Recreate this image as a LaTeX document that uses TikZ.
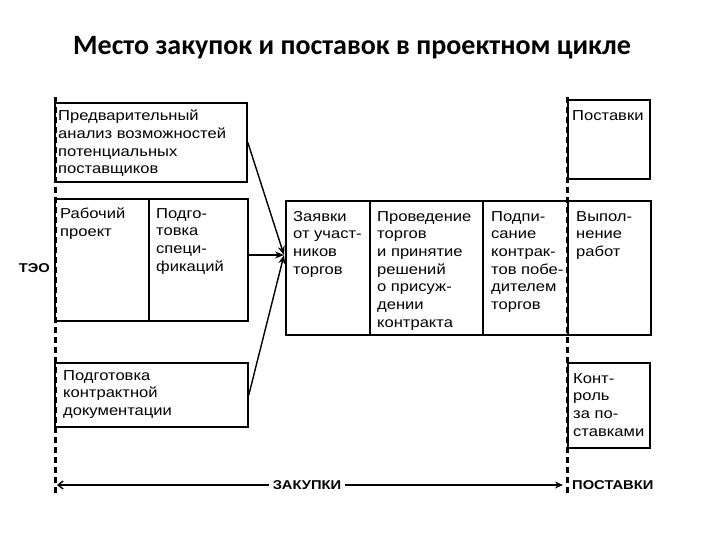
\documentclass[tikz,border=0pt]{standalone}
\usepackage{fontspec}
\setmainfont{Liberation Sans}
\newfontfamily\boxfont[FakeStretch=1.15]{Liberation Sans}
\newfontfamily\titlefont{Carlito}
\usetikzlibrary{arrows.meta,calc}
\newcommand\cellbox[8]{%
  \node[cellframe, minimum width={#4-#2}, minimum height={#5-#3}, anchor=north west] (#1) at (#2,#3) {};
  \node[celltext, anchor=north west] (#1-t) at ([shift={(#6pt,-#7pt)}]#1.north west) {#8};
}
\begin{document}
\begin{tikzpicture}[x=1pt,y=-1pt,
  cellframe/.style={draw=black, line width=1.8pt, inner sep=0pt},
  celltext/.style={inner sep=0pt, align=left, font=\boxfont\fontsize{14.4}{17.7}\selectfont},
  phase/.style={line width=3pt, dash pattern=on 6pt off 4pt},
  arr/.style={line width=1.4pt, -{Stealth[length=9pt,width=7pt]}},
  lab/.style={inner sep=1pt, font=\boxfont\bfseries\fontsize{12.8}{14}\selectfont}]
\useasboundingbox (0,0) rectangle (720,540);

\node[font=\titlefont\bfseries\fontsize{28}{32}\selectfont] (title) at (352,48) {Место закупок и поставок в проектном цикле};

\cellbox{pred}{54}{102}{246}{181}{4}{8}{Предварительный\\анализ возможностей\\потенциальных\\поставщиков}
\cellbox{rab}{54}{198}{148}{320}{6}{10}{Рабочий\\проект}
\cellbox{spec}{148}{198}{247}{320}{8}{10}{Подго-\\товка\\специ-\\фикаций}
\cellbox{doc}{54}{362}{247}{426}{9}{8}{Подготовка\\контрактной\\документации}
\cellbox{zay}{285}{200}{369}{334}{8}{11}{Заявки\\от участ-\\ников\\торгов}
\cellbox{prov}{369}{200}{482}{334}{8}{11}{Проведение\\торгов\\и принятие\\решений\\о присуж-\\дении\\контракта}
\cellbox{podp}{482}{200}{567}{334}{9}{11}{Подпи-\\сание\\контрак-\\тов побе-\\дителем\\торгов}
\cellbox{vyp}{567}{200}{650}{334}{9}{11}{Выпол-\\нение\\работ}
\cellbox{post}{567}{99}{649}{178}{5}{11}{Поставки}
\cellbox{kontr}{567}{362}{649}{447}{6}{11}{Конт-\\роль\\за по-\\ставками}

% phase boundaries
\coordinate (lt) at (55,97);
\coordinate (lb) at (55,494);
\coordinate (rt) at (567,97);
\coordinate (rb) at (567,494);
\draw[phase] (lt) -- (lb);
\draw[phase] (rt) -- (rb);

% arrows into applications box
\coordinate (tip) at (284,255);
\draw[arr] (pred.east) -- (tip);
\draw[arr] (spec.east |- tip) -- (tip);
\draw[arr] (doc.east) -- (tip);

% bottom axis
\coordinate (zl) at (57,485);
\coordinate (zr) at (563,485);
\draw[line width=1.4pt, {Straight Barb[length=5pt,width=8pt]}-{Stealth[length=8pt,width=7pt]}] (zl) -- (zr);
\node[lab, fill=white, inner xsep=4pt] (zak) at (307,485) {ЗАКУПКИ};
\node[lab, anchor=west] (postlab) at (571,485) {ПОСТАВКИ};
\node[lab, anchor=east] (teo) at (51,268) {ТЭО};
\end{tikzpicture}
\end{document}
